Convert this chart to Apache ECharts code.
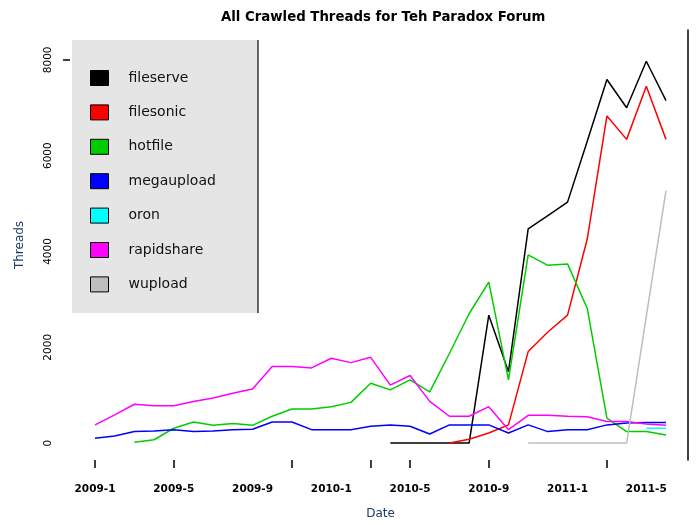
<!DOCTYPE html>
<html><head><meta charset="utf-8">
<script src="https://cdn.jsdelivr.net/npm/echarts@6/dist/echarts.min.js"></script>
<style>html,body{margin:0;padding:0;background:#fff}#c{width:696px;height:525px}</style>
</head><body><div id="c"></div>
<script>
const categories = ["2009-1","2009-2","2009-3","2009-4","2009-5","2009-6","2009-7","2009-8","2009-9","2009-10","2009-11","2009-12",
 "2010-1","2010-2","2010-3","2010-4","2010-5","2010-6","2010-7","2010-8","2010-9","2010-10","2010-11","2010-12",
 "2011-1","2011-2","2011-3","2011-4","2011-5","2011-6"];
const N = null;
const fileserve = [N,N,N,N,N,N,N,N,N,N,N,N,N,N,N, 0,0,0,0,0,2670,1490,4470,4750,5030,6300,7590,7000,7970,7150];
const filesonic = [N,N,N,N,N,N,N,N,N,N,N,N,N,N,N,N,N,N, 0,80,210,380,1910,2320,2670,4260,6830,6340,7450,6340];
const hotfile = [N,N, 20,70,310,440,370,410,370,560,710,710,760,850,1250,1110,1320,1070,1870,2700,3360,1320,3930,3710,3740,2810,520,240,240,170];
const megaupload = [100,150,240,250,280,240,250,280,290,440,440,280,280,280,350,380,350,190,380,380,380,210,380,240,280,280,380,420,430,430];
const oron = [N,N,N,N,N,N,N,N,N,N,N,N,N,N,N,N,N,N,N,N,N,N,N,N,N,N,N,N, 310,310];
const rapidshare = [380,590,810,780,780,870,940,1040,1130,1600,1600,1570,1770,1680,1790,1210,1410,870,560,560,760,280,580,580,560,550,450,450,400,370];
const wupload = [N,N,N,N,N,N,N,N,N,N,N,N,N,N,N,N,N,N,N,N,N,N, 0,0,0,0,0,0,2650,5270];
const yTickLabels = [0,2000,4000,6000,8000];
const xLabelIdx = [0,4,8,12,16,20,24,28];
const xTickIdx = [0,4,10,14,16,20,26];

const seriesDefs = [
  ["fileserve", fileserve, "#000000"],
  ["filesonic", filesonic, "#ff0000"],
  ["hotfile", hotfile, "#00cd00"],
  ["megaupload", megaupload, "#0000ff"],
  ["oron", oron, "#00ffff"],
  ["rapidshare", rapidshare, "#ff00ff"],
  ["wupload", wupload, "#bebebe"]
];
const FONT = "DejaVu Sans, Verdana, sans-serif";
const chart = echarts.init(document.getElementById('c'), null, {renderer:'canvas'});
chart.setOption({
  animation:false,
  backgroundColor:'#ffffff',
  title:{text:"All Crawled Threads for Teh Paradox Forum", left:216, top:6,
    textStyle:{fontFamily:FONT, fontSize:13.3, fontWeight:'bold', color:'#000'}},
  graphic:[
    {type:'rect', z:0, shape:{x:72,y:40,width:186,height:273}, style:{fill:'#e5e5e5'}},
    {type:'line', z:1, shape:{x1:258,y1:40,x2:258,y2:313}, style:{stroke:'#333',lineWidth:1.5}}
  ],
  legend:{orient:'vertical', left:90, top:70, padding:0, itemGap:18.4, z:5,
    icon:'rect', itemWidth:18, itemHeight:15,
    itemStyle:{borderColor:'#000', borderWidth:1},
    textStyle:{fontFamily:FONT, fontSize:14, color:'#111', lineHeight:16, padding:[0,0,0,15]},
    data:seriesDefs.map(s=>s[0])},
  grid:{left:95, right:30, top:30, bottom:63, containLabel:false},
  xAxis:{type:'category', data:categories, boundaryGap:false,
    name:'Date', nameLocation:'middle', nameGap:48,
    nameTextStyle:{fontFamily:FONT, fontSize:12, color:'#1b3a6b'},
    axisLine:{show:false, onZero:false},
    axisTick:{show:true, length:8, lineStyle:{color:'#000', width:1.5},
      interval:(i)=>xTickIdx.indexOf(i)>=0},
    axisLabel:{fontFamily:FONT, fontSize:10.5, fontWeight:'bold', color:'#000', margin:24,
      interval:(i)=>xLabelIdx.indexOf(i)>=0},
    splitLine:{show:false}},
  yAxis:[{type:'value', min:-353, max:8623, offset:25, position:'left',
    name:'Threads', nameLocation:'middle', nameGap:44, nameRotate:90,
    nameTextStyle:{fontFamily:FONT, fontSize:12, color:'#1b3a6b'},
    axisLine:{show:false},
    axisTick:{show:true, length:7, customValues:[8000], lineStyle:{color:'#000', width:1.5}},
    axisLabel:{fontFamily:FONT, fontSize:10.5, color:'#000', rotate:90, margin:16, customValues:yTickLabels,
      formatter:(v)=>String(v)},
    splitLine:{show:false}},
   {type:'value', min:-353, max:8623, position:'right', offset:22,
    axisLine:{show:true, lineStyle:{color:'#000', width:1.5}},
    axisTick:{show:false}, axisLabel:{show:false}, splitLine:{show:false}}],
  series:seriesDefs.map(s=>({
    name:s[0], type:'line', data:s[1], showSymbol:false, symbol:'none',
    itemStyle:{color:s[2]}, lineStyle:{color:s[2], width:1.5}, z:2
  }))
});
</script></body></html>
